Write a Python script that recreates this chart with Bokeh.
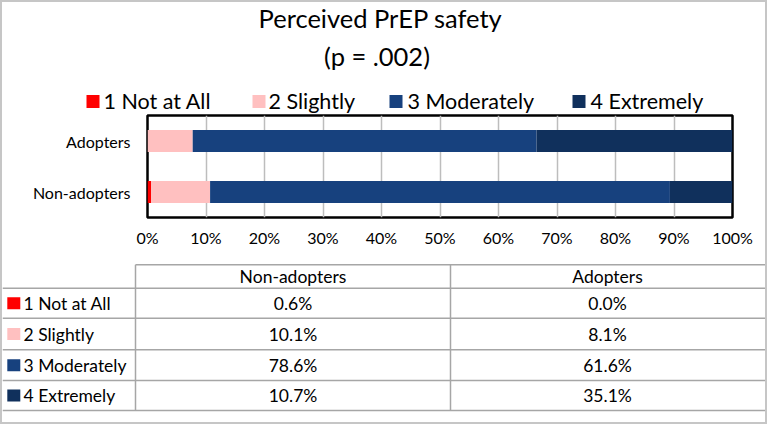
from bokeh.plotting import figure
from bokeh.models import Range1d, FactorRange, FixedTicker, ColumnDataSource
from bokeh.layouts import column
from bokeh.embed import file_html
from bokeh.resources import INLINE
from bokeh.core.properties import value

# ---------------- data ----------------
title_lines = ["Perceived PrEP safety", "(p = .002)"]
groups = ["Non-adopters", "Adopters"]
levels = ["1 Not at All", "2 Slightly", "3 Moderately", "4  Extremely"]
non_adopters = [0.6, 10.1, 78.6, 10.7]
adopters = [0.0, 8.1, 61.6, 35.1]
tick_values = [0, 10, 20, 30, 40, 50, 60, 70, 80, 90, 100]
tick_labels = ["0%", "10%", "20%", "30%", "40%", "50%", "60%", "70%", "80%", "90%", "100%"]

# ---------------- styles ----------------
colors = ["#ff0000", "#ffc0c0", "#17417e", "#10305c"]
FONT = "Lato"
W = 763
GRID_GREY = "#bdbdbd"
TABLE_GREY = "#a6a6a6"


def bare_figure(h):
    fig = figure(width=W, height=h, x_range=Range1d(0, W), y_range=Range1d(h, 0),
                 title=None, output_backend="svg", toolbar_location=None,
                 x_axis_location=None, y_axis_location=None,
                 min_border_left=0, min_border_right=0, min_border_top=0, min_border_bottom=0)
    fig.grid.visible = False
    fig.outline_line_color = None
    fig.frame_align = False
    return fig


# ---------------- header (title + legend) ----------------
HH = 111
header = bare_figure(HH)
header.text(x=[378, 374.5], y=[15, 53], text=title_lines,
            text_font=value(FONT), text_font_size="25.5px",
            text_align="center", text_baseline="middle", text_color="black")

leg_sq_left = [84, 250, 387, 570]
leg_txt_x = [101, 266, 405, 588]
leg_sq = 13
header.rect(x=[v + leg_sq / 2 for v in leg_sq_left], y=[99] * 4, width=leg_sq, height=leg_sq,
            fill_color=colors, line_color=None)
header.text(x=leg_txt_x, y=[98] * 4, text=levels,
            text_font=value(FONT), text_font_size="21.5px",
            text_align="left", text_baseline="middle", text_color="black")

# ---------------- chart ----------------
shares = {}
tot_n = sum(non_adopters)
tot_a = sum(adopters)
for i, lv in enumerate(levels):
    shares[lv] = [non_adopters[i] / tot_n * 100, adopters[i] / tot_a * 100]
src = ColumnDataSource(dict(group=groups, **shares))

chart = figure(width=W, height=147, x_range=Range1d(0, 100), y_range=FactorRange(*groups),
               title=None, output_backend="svg", toolbar_location=None,
               min_border_left=145, min_border_right=33, min_border_top=2, min_border_bottom=43)
chart.frame_align = False
chart.hbar_stack(levels, y="group", height=0.43, fill_color=colors, line_color=None, source=src)

ticker = FixedTicker(ticks=tick_values)
chart.xaxis.ticker = ticker
chart.xgrid.ticker = ticker
chart.xaxis.major_label_overrides = {v: lab for v, lab in zip(tick_values, tick_labels)}
for ax in (chart.xaxis, chart.yaxis):
    ax.axis_line_color = None
    ax.major_tick_line_color = None
    ax.minor_tick_line_color = None
    ax.major_tick_in = 0
    ax.major_tick_out = 0
    ax.minor_tick_in = 0
    ax.minor_tick_out = 0
    ax.major_label_text_font = FONT
    ax.major_label_text_color = "black"
chart.xaxis.major_label_text_font_size = "16px"
chart.xaxis.major_label_standoff = 10
chart.yaxis.major_label_text_font_size = "16px"
chart.yaxis.major_label_standoff = 17
chart.ygrid.grid_line_color = None
chart.xgrid.grid_line_color = GRID_GREY
chart.xgrid.grid_line_width = 1.5
chart.outline_line_color = "black"
chart.outline_line_width = 2.5
chart.outline_line_alpha = 1.0

# ---------------- table ----------------
TH = 162
table = bare_figure(TH)
top_line = 4.3
row_lines = [27.7, 57.7, 89.3, 120, 150]
col_lines = [133, 448]
table.segment(x0=[col_lines[0]], y0=[top_line], x1=[W], y1=[top_line],
              line_color=TABLE_GREY, line_width=1.5)
table.segment(x0=[0] * len(row_lines), y0=row_lines, x1=[W] * len(row_lines), y1=row_lines,
              line_color=TABLE_GREY, line_width=1.5)
table.segment(x0=col_lines, y0=[top_line] * 2, x1=col_lines, y1=[row_lines[-1]] * 2,
              line_color=TABLE_GREY, line_width=1.5)

col_centers = [290.5, 605]
row_centers = [42.7, 73.5, 104.7, 135]
header_y = 16
tfont = dict(text_font=value(FONT), text_font_size="17.5px", text_baseline="middle", text_color="black")
table.text(x=col_centers, y=[header_y] * 2, text=groups, text_align="center", **tfont)
table.rect(x=[11.3] * 4, y=row_centers, width=13, height=12, fill_color=colors, line_color=None)
table.text(x=[21] * 4, y=row_centers, text=levels, text_align="left", **tfont)
table.text(x=[col_centers[0]] * 4, y=row_centers, text=[f"{v:.1f}%" for v in non_adopters],
           text_align="center", **tfont)
table.text(x=[col_centers[1]] * 4, y=row_centers, text=[f"{v:.1f}%" for v in adopters],
           text_align="center", **tfont)

layout = column(header, chart, table, spacing=0,
                styles={"border": "2px solid #c6c6c6", "background-color": "white"})

open("out.html", "w").write(file_html(layout, INLINE))
